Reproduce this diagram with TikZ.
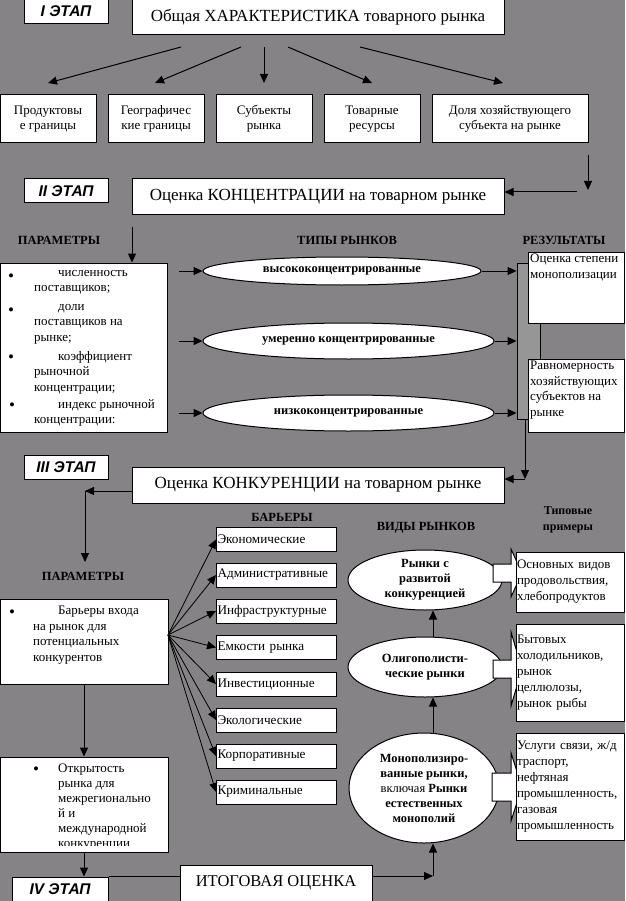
\documentclass[tikz,border=0pt]{standalone}
\usepackage{fontspec}
\setmainfont{Liberation Serif}
\newfontfamily\stagefont{Liberation Sans}
\usetikzlibrary{arrows.meta,shapes.geometric}
\definecolor{bg}{RGB}{134,131,134}
\definecolor{bargray}{RGB}{150,150,150}
\begin{document}
\begin{tikzpicture}[x=1pt,y=-1pt,
  box/.style={draw=black, fill=white, line width=1pt, inner sep=1pt, align=center},
  stagebox/.style={box, minimum width=84pt, minimum height=24pt, font=\stagefont\bfseries\itshape\fontsize{15.5}{18}\selectfont},
  titlebox/.style={box, minimum width=372pt, minimum height=36pt, font=\fontsize{17}{20}\selectfont},
  rowbox/.style={box, minimum height=48pt, font=\fontsize{13}{15}\selectfont},
  lbl/.style={font=\bfseries\fontsize{12.5}{16}\selectfont, inner sep=0pt, align=center},
  oval/.style={ellipse, draw=black, fill=white, line width=1pt, inner sep=0pt, font=\bfseries\fontsize{12.5}{15}\selectfont, align=center},
  arr/.style={-{Triangle[length=9pt,width=8pt]}, line width=1pt},
  ln/.style={line width=1pt},
  txt/.style={font=\fontsize{13}{15.5}\selectfont, inner sep=0pt, align=left, anchor=north west, yshift=10.85pt, execute at begin node=\strut},
  bul/.style={txt, font=\fontsize{17}{15.5}\selectfont, yshift=-0.5pt},
  barrier/.style={box, anchor=west, minimum height=24pt, text width=118pt, inner xsep=1pt, align=left, font=\fontsize{13.2}{15}\selectfont},
  exbox/.style={box, text width=106pt, inner xsep=1pt, minimum width=108pt, align=left, font=\fontsize{13}{16}\selectfont}
]
\useasboundingbox (0,0) rectangle (625,901);
\fill[bg] (0,0) rectangle (625,901);

% ---------- Stage I ----------
\node[stagebox] (s1) at (66,11.5) {I ЭТАП};
\node[titlebox] (m1) at (318,17) {Общая ХАРАКТЕРИСТИКА товарного рынка};
\node[rowbox, minimum width=96pt] (r1) at (48,119) {Продуктовы\\е границы};
\node[rowbox, minimum width=96pt] (r2) at (156,119) {Географичес\\кие границы};
\node[rowbox, minimum width=96pt] (r3) at (264,119) {Субъекты\\рынка};
\node[rowbox, minimum width=96pt] (r4) at (372,119) {Товарные\\ресурсы};
\node[rowbox, minimum width=156pt] (r5) at (510,119) {Доля хозяйствующего\\субъекта на рынке};
\coordinate (a1s) at (181,47); \coordinate (a1e) at (48,83);
\coordinate (a2s) at (241,47); \coordinate (a2e) at (155,83);
\coordinate (a3s) at (264,47); \coordinate (a3e) at (264,83);
\coordinate (a4s) at (288,47); \coordinate (a4e) at (372,83);
\coordinate (a5s) at (360,47); \coordinate (a5e) at (503,83);
\foreach \i in {1,...,5} {\draw[arr] (a\i s) -- (a\i e);}
\coordinate (v1s) at (588,155); \coordinate (v1e) at (588,190);
\draw[arr] (v1s) -- (v1e);

% ---------- Stage II ----------
\node[stagebox] (s2) at (66,191) {II ЭТАП};
\node[titlebox] (m2) at (318,197) {Оценка КОНЦЕНТРАЦИИ на товарном рынке};
\coordinate (h2s) at (577,192);
\draw[arr] (h2s) -- (m2.east |- h2s);
\node[lbl] (l21) at (59,240) {ПАРАМЕТРЫ};
\node[lbl] (l22) at (347,240) {ТИПЫ РЫНКОВ};
\node[lbl] (l23) at (564,240) {РЕЗУЛЬТАТЫ};
\node[box, minimum width=167pt, minimum height=169pt] (p2) at (84,347.5) {};
\coordinate (p2in) at (132,227);
\draw[arr] (p2in) -- (p2in |- p2.north);
\node[bul] (b21) at (8,281) {•};
\node[txt] (t21) at (34,281) {\hspace*{24pt}численность\\поставщиков;};
\node[bul] (b22) at (8,315) {•};
\node[txt] (t22) at (34,315) {\hspace*{24pt}доли\\поставщиков на\\рынке;};
\node[bul] (b23) at (8,362) {•};
\node[txt] (t23) at (34,362) {\hspace*{24pt}коэффициент\\рыночной\\концентрации;};
\node[bul] (b24) at (9,410) {•};
\node[txt] (t24) at (34,410) {\hspace*{24pt}индекс рыночной\\концентрации:};

\node[oval, minimum width=278pt, minimum height=28pt] (e1) at (342,271) {высококонцентрированные};
\node[oval, minimum width=291pt, minimum height=36pt] (e2) at (348.5,341) {умеренно концентрированные};
\node[oval, minimum width=291pt, minimum height=36pt] (e3) at (348.5,413) {низкоконцентрированные};
\node[draw=black, line width=1pt, fill=bargray, minimum width=23pt, minimum height=156pt, inner sep=0pt] (bar) at (528.5,341) {};
\foreach \e in {e1,e2,e3} {
  \coordinate (\e in) at (179,0);
  \draw[arr] (\e in |- \e.west) -- (\e.west);
  \draw[arr] (\e.east) -- (bar.west |- \e.east);
}
\node[box, minimum width=96pt, minimum height=71pt] (res1) at (576,287.5) {};
\node[txt] (res1t) at (530,265) {Оценка степени\\монополизации};
\node[box, minimum width=96pt, minimum height=73pt] (res2) at (576,395.5) {};
\node[txt] (res2t) at (530,372) {Равномерность\\хозяйствующих\\субъектов на\\рынке};

% ---------- Stage III ----------
\node[stagebox] (s3) at (66,467) {III ЭТАП};
\node[titlebox] (m3) at (318,485) {Оценка КОНКУРЕНЦИИ на товарном рынке};
\coordinate (c3) at (525,479);
\draw[arr] ([xshift=-3.5pt]bar.south) -- (c3);
\draw[arr] (c3) -- (m3.east |- c3);
\coordinate (c5) at (85,491);
\coordinate (c6) at (85,562);
\draw[arr] ([yshift=-6pt]m3.west) -- (c5);
\draw[arr] (c5) -- (c6);
\node[lbl] (l31) at (83,576) {ПАРАМЕТРЫ};
\node[lbl] (l32) at (282,517) {БАРЬЕРЫ};
\node[lbl] (l33) at (426,528) {ВИДЫ РЫНКОВ};
\node[lbl, font=\bfseries\fontsize{12}{16}\selectfont] (l34) at (568,520) {Типовые\\примеры};

\node[box, minimum width=168pt, minimum height=85pt] (p3) at (84,641.5) {};
\node[bul] (b31) at (9,617) {•};
\node[txt] (t31) at (33,617) {\hspace*{25pt}Барьеры входа\\на рынок для\\потенциальных\\конкурентов};

\node[barrier] (k1) at (216,539.5) {Экономические};
\node[barrier] (k2) at (216,575) {Административные};
\node[barrier] (k3) at (216,611) {Инфраструктурные};
\node[barrier] (k4) at (216,647.5) {Емкости рынка};
\node[barrier] (k5) at (216,684) {Инвестиционные};
\node[barrier] (k6) at (216,720) {Экологические};
\node[barrier] (k7) at (216,756) {Корпоративные};
\node[barrier] (k8) at (216,792) {Криминальные};
\coordinate (fan) at (168,635);
\foreach \k in {1,...,8} {\draw[-{Triangle[length=9pt,width=8pt]}, line width=0.8pt] (fan) -- (k\k.west);}

\node[box, minimum width=168pt, minimum height=95pt] (ox) at (84,804.5) {};
\draw[arr] (p3.south) -- (ox.north);
\node[bul] (b41) at (33,774) {•};
\begin{scope}
  \clip (0,757) rectangle (168,845.5);
  \node[txt, font=\fontsize{13}{15}\selectfont, yshift=-0.35pt] (t41) at (58,774) {Открытость\\рынка для\\межрегионально\\й и\\международной\\конкуренции};
\end{scope}

\node[oval, minimum width=154pt, minimum height=60pt] (v1) at (425,580) {Рынки с\\развитой\\конкуренцией};
\node[oval, minimum width=154pt, minimum height=60pt] (v2) at (425,667) {Олигополисти-\\ческие рынки};
\node[oval, minimum width=150pt, minimum height=110pt] (v3) at (424,788) {Монополизиро-\\ванные рынки,\\{\mdseries включая} Рынки\\естественных\\монополий};
\draw[arr] ([xshift=8pt]v2.north) -- ([xshift=8pt]v1.south);
\draw[arr] ([xshift=9pt]v3.north) -- ([xshift=8pt]v2.south);

% block arrows
\draw[ln, fill=white] (493,564) -- (511,564) -- (511,549) -- (522,573) -- (511,597) -- (511,582) -- (493,582) -- cycle;
\draw[ln, fill=white] (493,660) -- (511,660) -- (511,632) -- (522,669) -- (511,706) -- (511,678) -- (493,678) -- cycle;
\draw[ln, fill=white] (492,773) -- (511,773) -- (511,753) -- (522,787) -- (511,821) -- (511,801) -- (492,801) -- cycle;

\node[exbox, minimum height=60pt] (x1) at (570,582) {Основных видов\\продовольствия,\\хлебопродуктов};
\node[exbox, minimum height=97pt] (x2) at (570,672.5) {Бытовых\\холодильников,\\рынок\\целлюлозы,\\рынок рыбы};
\node[exbox, minimum height=107pt] (x3) at (570,786.5) {Услуги связи, ж/д\\траспорт,\\нефтяная\\промышленность,\\газовая\\промышленность};

% ---------- Stage IV ----------
\node[stagebox, minimum width=96pt] (s4) at (60,889) {IV ЭТАП};
\node[box, minimum width=192pt, minimum height=36pt, font=\fontsize{16.5}{20}\selectfont] (itog) at (276,883) {ИТОГОВАЯ ОЦЕНКА};
\draw[arr] (ox.south) -- (ox.south |- s4.north);
\draw[ln] (s4.north east) -- (s4.north east -| itog.west);
\coordinate (c4) at (433,876);
\draw[arr] ([yshift=7pt]itog.east) -- (c4);
\draw[arr] (c4) -- ([xshift=9pt]v3.south);
\end{tikzpicture}
\end{document}
